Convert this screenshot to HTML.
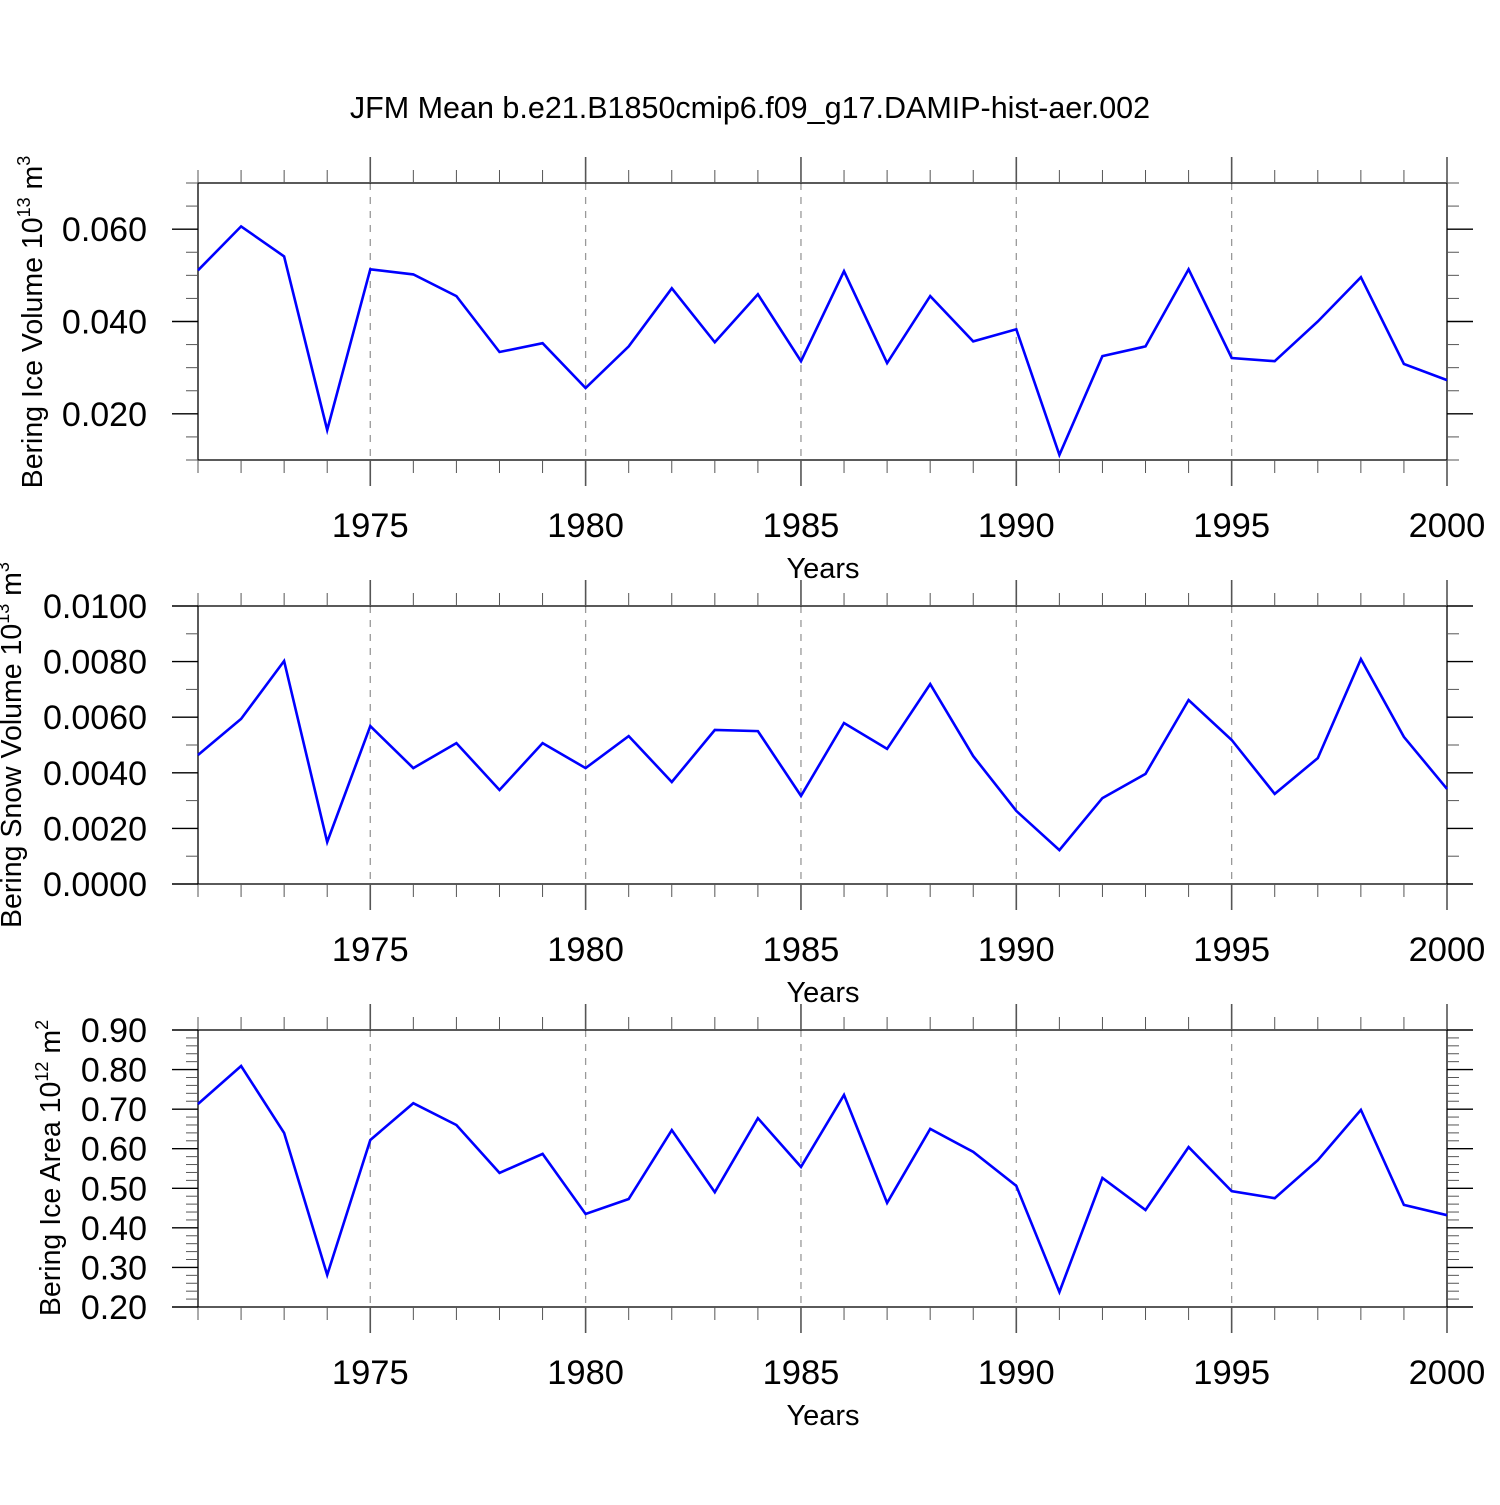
<!DOCTYPE html>
<html><head><meta charset="utf-8"><style>
body{margin:0;background:#fff}
svg text{font-family:"Liberation Sans",Arial,sans-serif;fill:#000}
</style></head><body>
<svg id="chart" width="1500" height="1500" viewBox="0 0 1500 1500" xmlns="http://www.w3.org/2000/svg">
<rect width="1500" height="1500" fill="#fff"/>
<text x="750" y="118" font-size="30.5" text-anchor="middle">JFM Mean b.e21.B1850cmip6.f09_g17.DAMIP-hist-aer.002</text>
</svg>
<script>
const years=[1971,1972,1973,1974,1975,1976,1977,1978,1979,1980,1981,1982,1983,1984,1985,1986,1987,1988,1989,1990,1991,1992,1993,1994,1995,1996,1997,1998,1999,2000];
const iceVolume=[0.0511,0.0606,0.0541,0.0165,0.0513,0.0502,0.0455,0.0334,0.0353,0.0256,0.0346,0.0472,0.0355,0.0459,0.0314,0.0509,0.0310,0.0455,0.0357,0.0383,0.0111,0.0325,0.0346,0.0513,0.0321,0.0314,0.0400,0.0496,0.0308,0.0273];
const snowVolume=[0.00464,0.00594,0.00802,0.00151,0.00568,0.00417,0.00507,0.00338,0.00507,0.00417,0.00532,0.00367,0.00554,0.00550,0.00317,0.00579,0.00486,0.00719,0.00460,0.00263,0.00122,0.00309,0.00396,0.00662,0.00518,0.00324,0.00453,0.00809,0.00529,0.00342];
const iceArea=[0.713,0.809,0.640,0.281,0.622,0.715,0.660,0.539,0.587,0.435,0.473,0.647,0.490,0.677,0.554,0.736,0.463,0.650,0.592,0.506,0.238,0.526,0.445,0.604,0.493,0.475,0.571,0.698,0.458,0.432];
const xTicks=[1975,1980,1985,1990,1995,2000];
const panels=[
 {name:'ice-volume',vals:iceVolume,ymin:0.010,ymax:0.070,major:[0.020,0.040,0.060],labels:['0.020','0.040','0.060'],minor:0.005,top:183,bot:460,title:['Bering Ice Volume 10','13',' m','3'],ty:322,tx:42},
 {name:'snow-volume',vals:snowVolume,ymin:0,ymax:0.010,major:[0,0.002,0.004,0.006,0.008,0.010],labels:['0.0000','0.0020','0.0040','0.0060','0.0080','0.0100'],minor:0.001,top:606,bot:884,title:['Bering Snow Volume 10','13',' m','3'],ty:745,tx:21},
 {name:'ice-area',vals:iceArea,ymin:0.2,ymax:0.9,major:[0.2,0.3,0.4,0.5,0.6,0.7,0.8,0.9],labels:['0.20','0.30','0.40','0.50','0.60','0.70','0.80','0.90'],minor:0.02,top:1030,bot:1307,title:['Bering Ice Area 10','12',' m','2'],ty:1168,tx:60}
];
const NS='http://www.w3.org/2000/svg';
const svg=document.getElementById('chart');
const L=198,R=1447;
function xs(y){return L+(y-1971)/(2000-1971)*(R-L);}
function mk(t,a,parent){const e=document.createElementNS(NS,t);for(const k in a)e.setAttribute(k,a[k]);(parent||svg).appendChild(e);return e;}
function line(g,x1,y1,x2,y2,st,w,dash){const e=mk('line',{x1,y1,x2,y2,stroke:st,'stroke-width':w},g);if(dash)e.setAttribute('stroke-dasharray',dash);return e;}
panels.forEach((p,pi)=>{
 const g=mk('g',{});
 
 
 const ys=v=>p.bot-(v-p.ymin)/(p.ymax-p.ymin)*(p.bot-p.top);
 xTicks.slice(0,5).forEach(t=>{const e=line(g,xs(t),p.top,xs(t),p.bot,'#999',1.3,'7,7');});
 const fr=mk('rect',{x:L,y:p.top,width:R-L,height:p.bot-p.top,fill:'none',stroke:'#000','stroke-width':1.3},g);
 
 years.forEach(yr=>{const maj=yr%5===0;const len=maj?26:13;const x=xs(yr);
  line(g,x,p.top,x,p.top-len,'#555',maj?1.6:1);line(g,x,p.bot,x,p.bot+len,'#555',maj?1.6:1);});
 xTicks.forEach(t=>{const e=mk('text',{x:xs(t),y:p.bot+77,'font-size':34.5,'text-anchor':'middle'},g);e.textContent=t;});
 const xt=mk('text',{x:823,y:p.bot+118,'font-size':29,'text-anchor':'middle'},g);xt.textContent='Years';
 
 const n=Math.round((p.ymax-p.ymin)/p.minor);
 for(let i=0;i<=n;i++){const v=p.ymin+i*p.minor;const y=ys(v);const maj=p.major.some(m=>Math.abs(m-v)<p.minor/10);const len=maj?26:12;
  line(g,L,y,L-len,y,maj?'#000':'#555',maj?1.4:1);line(g,R,y,R+len,y,maj?'#000':'#555',maj?1.4:1);}
 p.major.forEach((m,i)=>{const e=mk('text',{x:147,y:ys(m)+12,'font-size':34,'text-anchor':'end'},g);e.textContent=p.labels[i];});
 const yt=mk('text',{x:p.tx,y:p.ty,'font-size':28.5,'text-anchor':'middle',transform:`rotate(-90 ${p.tx} ${p.ty})`},g);
 
 const parts=p.title;
 const t1=mk('tspan',{},yt);t1.textContent=parts[0];
 const t2=mk('tspan',{dy:-12,'font-size':18},yt);t2.textContent=parts[1];
 const t3=mk('tspan',{dy:12},yt);t3.textContent=parts[2];
 const t4=mk('tspan',{dy:-12,'font-size':18},yt);t4.textContent=parts[3];
 const pts=p.vals.map((v,i)=>xs(years[i]).toFixed(1)+','+ys(v).toFixed(1)).join(' ');
 const pl=mk('polyline',{points:pts,fill:'none',stroke:'#0000ff','stroke-width':2.6,'stroke-linejoin':'miter'},g);
 
 
});
</script>
</body></html>
